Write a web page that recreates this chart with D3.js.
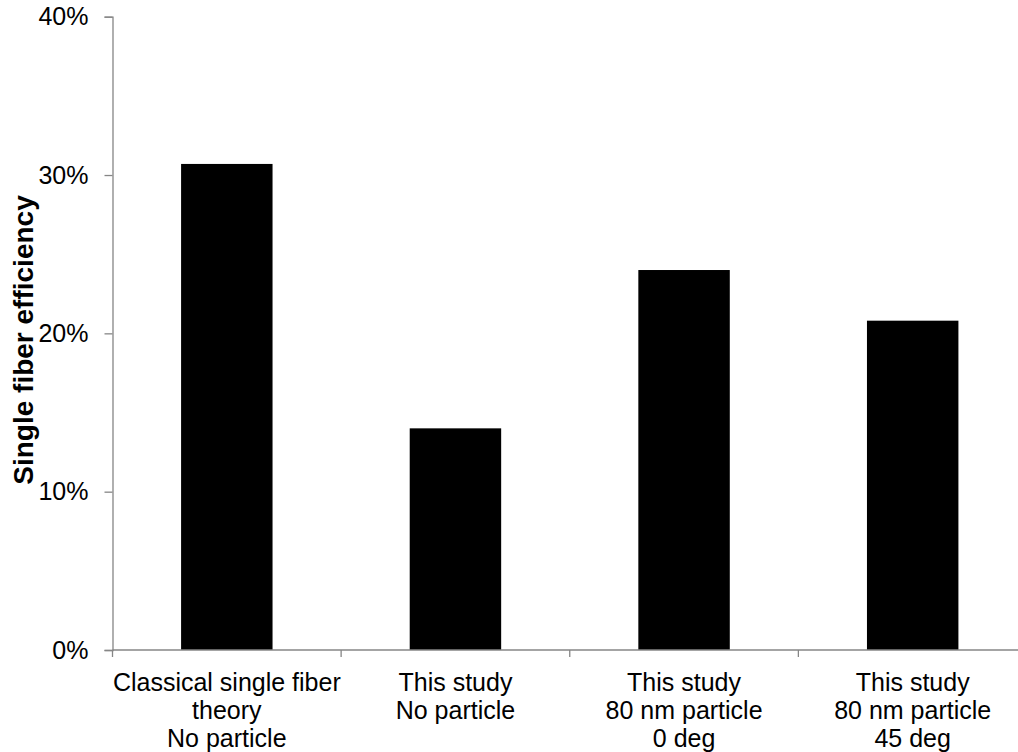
<!DOCTYPE html>
<html>
<head>
<meta charset="utf-8">
<script src="https://cdn.jsdelivr.net/npm/d3@7"></script>
<style>
  html, body { margin: 0; padding: 0; background: #fff; }
  svg text { font-family: "Liberation Sans", Arial, sans-serif; fill: #000; }
</style>
</head>
<body>
<svg id="chart" width="1018" height="752"></svg>
<script>
// Categories (multi-line labels) and single fiber efficiency values (fraction)
const categories = [
  ["Classical single fiber", "theory", "No particle"],
  ["This study", "No particle"],
  ["This study", "80 nm particle", "0 deg"],
  ["This study", "80 nm particle", "45 deg"]
];
const efficiency = [0.307, 0.140, 0.240, 0.208];
const yTicks = [0, 0.1, 0.2, 0.3, 0.4];

const svg = d3.select("#chart");
const axisColor = "#868686";

const x = d3.scaleBand()
  .domain(d3.range(categories.length))
  .range([112.5, 1027])
  .paddingInner(0.6)
  .paddingOuter(0.3);

const y = d3.scaleLinear()
  .domain([0, 0.4])
  .range([650, 16.7]);

// Bars
svg.append("g")
  .selectAll("rect")
  .data(efficiency)
  .join("rect")
  .attr("x", (d, i) => x(i))
  .attr("width", x.bandwidth())
  .attr("y", d => y(d))
  .attr("height", d => y(0) - y(d))
  .attr("fill", "#000");

// Y axis
const yAxis = svg.append("g")
  .attr("transform", "translate(112.5,0)")
  .call(d3.axisLeft(y).tickValues(yTicks).tickFormat(d3.format(".0%")).tickSize(8).tickPadding(16));
yAxis.select(".domain").attr("stroke", axisColor).attr("stroke-width", 1.3);
yAxis.selectAll(".tick line").attr("stroke", axisColor).attr("stroke-width", 1.3);
yAxis.selectAll(".tick text").attr("font-size", 25).attr("fill", "#000");

// X axis: baseline with tick marks at category boundaries
const step = x.step();
const xStart = x.range()[0];
const boundaries = d3.range(categories.length + 1).map(i => xStart + i * step);
const xg = svg.append("g");
xg.append("line")
  .attr("x1", xStart).attr("x2", x.range()[1])
  .attr("y1", y(0)).attr("y2", y(0))
  .attr("stroke", axisColor).attr("stroke-width", 1.3);
xg.selectAll("line.tick")
  .data(boundaries)
  .join("line")
  .attr("class", "tick")
  .attr("x1", d => d).attr("x2", d => d)
  .attr("y1", y(0)).attr("y2", y(0) + 7)
  .attr("stroke", axisColor).attr("stroke-width", 1.3);

// Category labels
const labels = svg.append("g")
  .selectAll("text")
  .data(categories)
  .join("text")
  .attr("text-anchor", "middle")
  .attr("font-size", 25)
  .attr("transform", (d, i) => `translate(${x(i) + x.bandwidth() / 2},691)`);
labels.selectAll("tspan")
  .data(d => d)
  .join("tspan")
  .attr("x", 0)
  .attr("y", (d, j) => j * 28)
  .text(d => d);

// Y axis title
svg.append("text")
  .attr("transform", `translate(33,340) rotate(-90)`)
  .attr("text-anchor", "middle")
  .attr("font-size", 28)
  .attr("font-weight", "bold")
  .text("Single fiber efficiency");
</script>
</body>
</html>
